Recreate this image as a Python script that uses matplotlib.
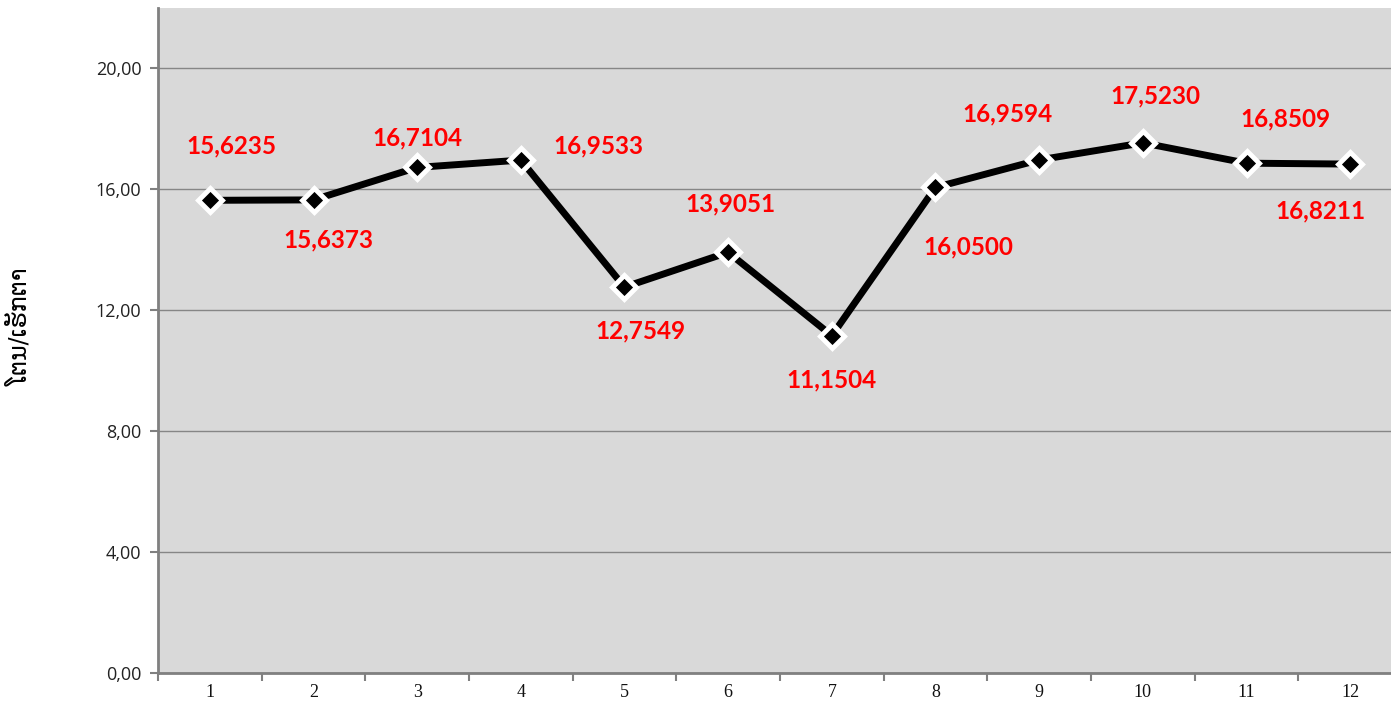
import matplotlib
matplotlib.use("Agg")
import matplotlib.pyplot as plt

months = [1, 2, 3, 4, 5, 6, 7, 8, 9, 10, 11, 12]
values = [15.6235, 15.6373, 16.7104, 16.9533, 12.7549, 13.9051,
          11.1504, 16.0500, 16.9594, 17.5230, 16.8509, 16.8211]
y_ticks = [0, 4, 8, 12, 16, 20]
y_label = "ໂຕນ/ເຮັກຕາ"

# label offsets in pixels (dx, dy) from each point
offsets = [(22, 54), (15, -40), (0, 30), (78, 14), (16, -44), (2, 48),
           (0, -44), (33, -60), (-32, 46), (13, 47), (39, 44), (-30, -47)]

fig = plt.figure(figsize=(13.91, 7.04), dpi=100)
ax = fig.add_axes([158 / 1391, 1 - 673 / 704, (1402 - 158) / 1391, (673 - 8) / 704])
ax.set_facecolor("#d9d9d9")

ax.set_xlim(0.5, 12.5)
ax.set_ylim(0, 21.98)

ax.set_yticks(y_ticks)
ax.set_yticklabels([f"{v:.2f}".replace(".", ",") for v in y_ticks],
                   fontsize=13, family="Open Sans", color="#222222")
ax.yaxis.grid(True, color="#868686", linewidth=1)
ax.set_axisbelow(True)

ax.set_xticks(months)
ax.set_xticklabels([str(m) for m in months], fontsize=13,
                   family="Liberation Serif", color="#111111")
ax.set_xticks([m + 0.5 for m in range(0, 12)], minor=True)
ax.tick_params(axis="x", which="major", length=0, pad=8)
ax.tick_params(axis="x", which="minor", length=6, width=1.5, color="#808080")
ax.tick_params(axis="y", length=6, width=1.5, color="#808080", pad=6)

for side in ("top", "right"):
    ax.spines[side].set_visible(False)
for side in ("left", "bottom"):
    ax.spines[side].set_color("#808080")
    ax.spines[side].set_linewidth(2)

ax.plot(months, values, color="black", linewidth=5, solid_capstyle="round",
        marker="D", markersize=12, markerfacecolor="black",
        markeredgecolor="white", markeredgewidth=3.5, zorder=3)

for m, v, (dx, dy) in zip(months, values, offsets):
    ax.annotate(f"{v:.4f}".replace(".", ","), (m, v), xytext=(dx, dy),
                textcoords="offset pixels", ha="center", va="center",
                color="red", fontsize=17.5, fontweight="bold", family="Lato")

fig.text(20 / 1391, 1 - 327 / 704, y_label, rotation=90, ha="center",
         va="center", fontsize=17, family=["DejaVu Sans"])

fig.savefig("out.png", dpi=100)
